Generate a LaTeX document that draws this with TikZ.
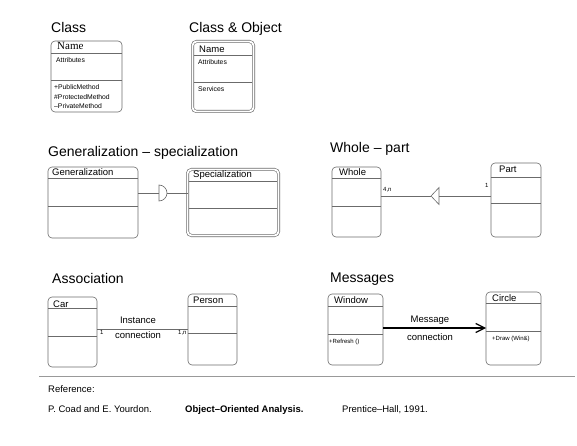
\documentclass[tikz,border=0pt]{standalone}
\usepackage{fontspec}
\setmainfont{Liberation Sans}
\newfontfamily\timesfont{Liberation Serif}
\usetikzlibrary{arrows.meta}
\definecolor{boxgray}{gray}{0.42}
\definecolor{rulegray}{gray}{0.6}
\begin{document}
\begin{tikzpicture}
    [x=1pt, y=-1pt,
    umlbox/.style={draw=boxgray, line width=0.6pt, rounded corners=4pt, inner sep=0pt, outer sep=0pt, anchor=north west},
    dblbox/.style={umlbox, double=white, double distance=1.8pt},
    divider/.style={draw=boxgray, line width=0.6pt},
    link/.style={draw=boxgray, line width=0.6pt},
    txt/.style={inner sep=0pt, anchor=base west},
    heading/.style={txt, font=\fontsize{14}{16}\selectfont},
    boxname/.style={txt, font=\fontsize{9.5}{11}\selectfont},
    small/.style={txt, font=\fontsize{6.8}{8}\selectfont},
    tiny/.style={txt, font=\fontsize{6}{7}\selectfont},
    label/.style={inner sep=0pt, anchor=base, font=\fontsize{9.5}{11}\selectfont},
    ref/.style={txt, font=\fontsize{9.5}{11}\selectfont}]
        \useasboundingbox (0,0) rectangle (577,446);

        %% Class
        \node[heading] (tclass) at (51,33) {Class};
        \node[umlbox, minimum width=71pt, minimum height=71pt] (class) at (51,41) {};
        \draw[divider] (class.west |- 0,53) -- (class.east |- 0,53);
        \draw[divider] (class.west |- 0,80) -- (class.east |- 0,80);
        \node[txt, font=\timesfont\fontsize{11}{12}\selectfont] (cname) at (57,50) {Name};
        \node[small] (cattr) at (56,63) {Attributes};
        \node[small] (cpub) at (54,90) {+PublicMethod};
        \node[small] (cprot) at (54,99.5) {\#ProtectedMethod};
        \node[small] (cpriv) at (54,109) {--PrivateMethod};

        %% Class & Object
        \node[heading] (tobj) at (189,33) {Class \& Object};
        \node[dblbox, minimum width=61pt, minimum height=70pt] (obj) at (192.5,41.5) {};
        \draw[divider, shorten <=1.5pt, shorten >=1.5pt] (obj.west |- 0,55) -- (obj.east |- 0,55);
        \draw[divider, shorten <=1.5pt, shorten >=1.5pt] (obj.west |- 0,82) -- (obj.east |- 0,82);
        \node[boxname] (oname) at (199,53) {Name};
        \node[small] (oattr) at (198,65) {Attributes};
        \node[small] (oserv) at (198,92) {Services};

        %% Generalization - specialization
        \node[heading] (tgen) at (48,157) {Generalization -- specialization};
        \node[umlbox, minimum width=90pt, minimum height=71pt] (gen) at (48,167) {};
        \draw[divider] (gen.west |- 0,178) -- (gen.east |- 0,178);
        \draw[divider] (gen.west |- 0,206) -- (gen.east |- 0,206);
        \node[boxname] (gname) at (52,176) {Generalization};
        \node[dblbox, minimum width=91pt, minimum height=66pt] (spec) at (187.5,169.5) {};
        \draw[divider, shorten <=1.5pt, shorten >=1.5pt] (spec.west |- 0,181) -- (spec.east |- 0,181);
        \draw[divider, shorten <=1.5pt, shorten >=1.5pt] (spec.west |- 0,208) -- (spec.east |- 0,208);
        \node[boxname] (sname) at (193,178) {Specialization};
        \coordinate (gsemi) at (159,193);
        \coordinate (gsemiend) at (167,193);
        \draw[link] (gen.east |- gsemi) -- (gsemi);
        \draw[link, fill=white] (159,185) arc (-90:90:8) -- cycle;
        \draw[link] (gsemiend) -- (spec.west |- gsemiend);

        %% Whole - part
        \node[heading] (twhole) at (330,153) {Whole -- part};
        \node[umlbox, minimum width=49pt, minimum height=70pt] (whole) at (332,167) {};
        \draw[divider] (whole.west |- 0,178) -- (whole.east |- 0,178);
        \draw[divider] (whole.west |- 0,206) -- (whole.east |- 0,206);
        \node[boxname] (wname) at (339,176) {Whole};
        \node[umlbox, minimum width=50pt, minimum height=74pt] (part) at (491,163) {};
        \draw[divider] (part.west |- 0,177) -- (part.east |- 0,177);
        \draw[divider] (part.west |- 0,203) -- (part.east |- 0,203);
        \node[boxname] (pname) at (499,173) {Part};
        \coordinate (wtip) at (431,196);
        \coordinate (wbase) at (439,196);
        \draw[link] (whole.east |- wtip) -- (wtip);
        \draw[link, fill=white] (wtip) -- (439,187.5) -- (439,204.5) -- cycle;
        \draw[link] (wbase) -- (part.west |- wbase);
        \node[tiny] (wmult) at (383,192) {4,n};
        \node[tiny] (pmult) at (485,187) {1};

        %% Association
        \node[heading] (tassoc) at (52,283) {Association};
        \node[umlbox, minimum width=49pt, minimum height=70pt] (car) at (48,297) {};
        \draw[divider] (car.west |- 0,308) -- (car.east |- 0,308);
        \draw[divider] (car.west |- 0,336) -- (car.east |- 0,336);
        \node[boxname] (carname) at (53,307) {Car};
        \node[umlbox, minimum width=49pt, minimum height=71pt] (person) at (188,294) {};
        \draw[divider] (person.west |- 0,306) -- (person.east |- 0,306);
        \draw[divider] (person.west |- 0,333) -- (person.east |- 0,333);
        \node[boxname] (persname) at (193,303) {Person};
        \coordinate (acar) at (97,329);
        \draw[link] (acar) -- (person.west |- acar);
        \node[label] (ainst) at (138,323) {Instance};
        \node[label] (aconn) at (138,338) {connection};
        \node[tiny] (amult1) at (100,334) {1};
        \node[tiny] (amult2) at (178,334) {1,n};

        %% Messages
        \node[heading] (tmsg) at (330,282) {Messages};
        \node[umlbox, minimum width=55pt, minimum height=71pt] (window) at (328,294) {};
        \draw[divider] (window.west |- 0,306) -- (window.east |- 0,306);
        \draw[divider] (window.west |- 0,334) -- (window.east |- 0,334);
        \node[boxname] (winname) at (334,303) {Window};
        \node[tiny] (winop) at (329,343) {+Refresh ()};
        \node[umlbox, minimum width=55pt, minimum height=73pt] (circle) at (486,292) {};
        \draw[divider] (circle.west |- 0,303) -- (circle.east |- 0,303);
        \draw[divider] (circle.west |- 0,331) -- (circle.east |- 0,331);
        \node[boxname] (circname) at (492,301) {Circle};
        \node[tiny] (circop) at (492,340) {+Draw (Win\&)};
        \coordinate (mwin) at (383,328);
        \draw[line width=1.6pt, -{Straight Barb[length=9pt, width=9pt, line width=1.2pt]}] (mwin) -- (circle.west |- mwin);
        \node[label] (mmsg) at (430,322) {Message};
        \node[label] (mconn) at (430,340) {connection};

        %% Reference
        \coordinate (rleft) at (39,376);
        \coordinate (rright) at (575,376);
        \draw[rulegray, line width=1pt] (rleft) -- (rright);
        \node[ref] (rhead) at (48,392) {Reference:};
        \node[ref] (rauth) at (48,412) {P. Coad and E. Yourdon.};
        \node[ref, font=\bfseries\fontsize{9.5}{11}\selectfont] (rtitle) at (185,412) {Object--Oriented Analysis.};
        \node[ref] (rpub) at (342,412) {Prentice--Hall, 1991.};
    \end{tikzpicture}
\end{document}
